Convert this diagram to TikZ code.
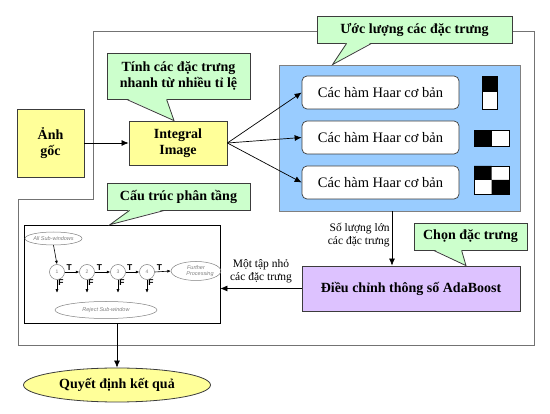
\documentclass[tikz,border=0pt]{standalone}
\usepackage{fontspec}
\setmainfont{Liberation Serif}
\setsansfont{Liberation Sans}
\usetikzlibrary{arrows.meta,shapes.geometric}

\definecolor{vang}{RGB}{255,255,153}
\definecolor{xanhla}{RGB}{204,255,204}
\definecolor{xanhduong}{RGB}{153,204,255}
\definecolor{tim}{RGB}{221,194,255}
\definecolor{vien}{RGB}{60,60,60}

\begin{document}
\begin{tikzpicture}[x=1pt,y=-1pt,
    hop/.style={draw=vien,line width=0.8pt,align=center,inner sep=0pt,
      font=\fontsize{14}{15.5}\selectfont\bfseries},
    goiy/.style={draw=vien,line width=0.8pt,fill=xanhla,align=center,inner sep=0pt,
      font=\fontsize{14}{16}\selectfont\bfseries},
    haar/.style={draw=vien,line width=0.7pt,fill=white,rounded corners=5pt,
      minimum width=157pt,minimum height=33pt,font=\fontsize{14.5}{16}\selectfont},
    nhan/.style={font=\fontsize{11.5}{13}\selectfont,align=right,inner sep=2pt},
    muiten/.style={line width=0.7pt,-{Latex[length=7pt,width=6pt]}},
    nho/.style={draw=gray,line width=0.5pt,text=gray,inner sep=0pt,
      font=\sffamily\itshape\fontsize{5.5}{6.5}\selectfont},
    tennho/.style={font=\sffamily\bfseries\fontsize{8.5}{9}\selectfont,inner sep=1pt},
    mtnho/.style={line width=0.6pt,-{Latex[length=3.5pt,width=3pt]}}]
  \useasboundingbox (0,0) rectangle (550,414);

  % Khung ngoai
  \draw[gray!90!black,line width=0.9pt]
    (93,31) -- (534,31) -- (534,345) -- (18,345) -- (18,199) -- (93,199) -- cycle;

  % Anh goc va Integral Image
  \node[hop,fill=vang,minimum width=67pt,minimum height=68pt] (anhgoc) at (50.5,143) {Ảnh\\gốc};
  \node[hop,fill=vang,minimum width=98pt,minimum height=44pt] (integral) at (178,143) {Integral\\Image};
  \draw[muiten] (anhgoc) -- (integral);

  % Khoi cac ham Haar
  \node[draw=gray,line width=0.8pt,fill=xanhduong,minimum width=241pt,minimum height=146pt]
    (khoixanh) at (399.5,138) {};
  \node[haar] (haar1) at (380.5,92.5) {Các hàm Haar cơ bản};
  \node[haar] (haar2) at (380.5,137.5) {Các hàm Haar cơ bản};
  \node[haar] (haar3) at (380.5,182.5) {Các hàm Haar cơ bản};
  \foreach \i in {1,2,3}
    \draw[muiten] (integral.east) -- (haar\i.west);

  % Mau Haar
  \draw[line width=0.6pt,fill=white] (482,76) rectangle (497,109);
  \fill (482,76) rectangle (497,92.5);
  \draw[line width=0.6pt,fill=white] (474,130) rectangle (509,146);
  \fill (474,130) rectangle (491.5,146);
  \draw[line width=0.6pt,fill=white] (474,166) rectangle (509,194);
  \fill (474,166) rectangle (491.5,180) (491.5,180) rectangle (509,194);

  % AdaBoost
  \node[hop,fill=tim,minimum width=218pt,minimum height=45pt] (adaboost) at (411,288.5) {Điều chỉnh thông số AdaBoost};
  \draw[muiten] ([xshift=-7.5pt]khoixanh.south) -- ([xshift=-7.5pt]khoixanh.south |- adaboost.north)
    node[nhan,midway,left,yshift=3pt] {Số lượng lớn\\các đặc trưng};

  % Cau truc phan tang
  \node[draw,line width=0.7pt,fill=white,minimum width=196pt,minimum height=98pt]
    (phantang) at (122,274) {};
  \draw[muiten] (adaboost.west) -- (phantang.east |- adaboost.west)
    node[nhan,midway,above,align=center,yshift=3pt] {Một tập nhỏ\\các đặc trưng};

  \node[nho,ellipse,minimum width=55pt,minimum height=13pt] (tatca) at (53.5,238.5) {All Sub-windows};
  \foreach \i/\x in {1/57,2/87,3/118,4/147}
    \node[nho,circle,minimum size=15pt,font=\sffamily\fontsize{5}{6}\selectfont] (c\i) at (\x,272) {\i};
  \node[nho,ellipse,minimum width=44pt,minimum height=19pt,align=center] (tieptuc) at (196,271) {Further\\\hspace*{8pt}Processing};
  \node[nho,ellipse,minimum width=102pt,minimum height=17pt] (tuchoi) at (106,310) {Reject Sub-window};
  \draw[mtnho] (tatca.south) -- (c1.north);
  \foreach \a/\b in {c1/c2,c2/c3,c3/c4,c4/tieptuc}
    \draw[mtnho] (\a.east) -- (\b.west) node[tennho,pos=0.3,above] {T};
  \foreach \i in {1,...,4} {
    \coordinate (duoi\i) at ([yshift=-13pt]c\i.south);
    \draw[mtnho] (c\i.south) -- (duoi\i) node[tennho,pos=0.25,right] {F};
  }

  % Quyet dinh
  \node[hop,ellipse,fill=vang,minimum width=187pt,minimum height=34pt] (ketqua) at (117,385) {Quyết định kết quả};
  \draw[muiten] (phantang.south -| ketqua.north) -- (ketqua.north);

  % Cac o goi y
  \node[goiy,minimum width=143pt,minimum height=46pt] (goiy1) at (178.5,76) {Tính các đặc trưng\\nhanh từ nhiều tỉ lệ};
  \fill[xanhla] ([xshift=20pt,yshift=1pt]goiy1.south west) -- ([xshift=-4pt]integral.north)
    -- ([xshift=60pt,yshift=1pt]goiy1.south west) -- cycle;
  \draw[vien,line width=0.8pt] ([xshift=20pt]goiy1.south west) -- ([xshift=-4pt]integral.north)
    -- ([xshift=60pt]goiy1.south west);

  \node[goiy,minimum width=195pt,minimum height=27pt] (goiy2) at (414.5,29.5) {Ước lượng các đặc trưng};
  \fill[xanhla] ([xshift=30pt,yshift=1pt]goiy2.south west) -- ([xshift=-67pt]khoixanh.north)
    -- ([xshift=55pt,yshift=1pt]goiy2.south west) -- cycle;
  \draw[vien,line width=0.8pt] ([xshift=30pt]goiy2.south west) -- ([xshift=-67pt]khoixanh.north)
    -- ([xshift=55pt]goiy2.south west);

  \node[goiy,minimum width=113pt,minimum height=27pt] (goiy3) at (470.5,236.5) {Chọn đặc trưng};
  \fill[xanhla] ([xshift=20pt,yshift=1pt]goiy3.south west) -- ([xshift=55pt]adaboost.north)
    -- ([xshift=48pt,yshift=1pt]goiy3.south west) -- cycle;
  \draw[vien,line width=0.8pt] ([xshift=20pt]goiy3.south west) -- ([xshift=55pt]adaboost.north)
    -- ([xshift=48pt]goiy3.south west);

  \node[goiy,minimum width=143pt,minimum height=27pt] (goiy4) at (178.5,196.5) {Cấu trúc phân tầng};
  \fill[xanhla] ([xshift=23pt,yshift=1pt]goiy4.south west) -- ([xshift=-12pt]phantang.north)
    -- ([xshift=58pt,yshift=1pt]goiy4.south west) -- cycle;
  \draw[vien,line width=0.8pt] ([xshift=23pt]goiy4.south west) -- ([xshift=-12pt]phantang.north)
    -- ([xshift=58pt]goiy4.south west);
\end{tikzpicture}
\end{document}
